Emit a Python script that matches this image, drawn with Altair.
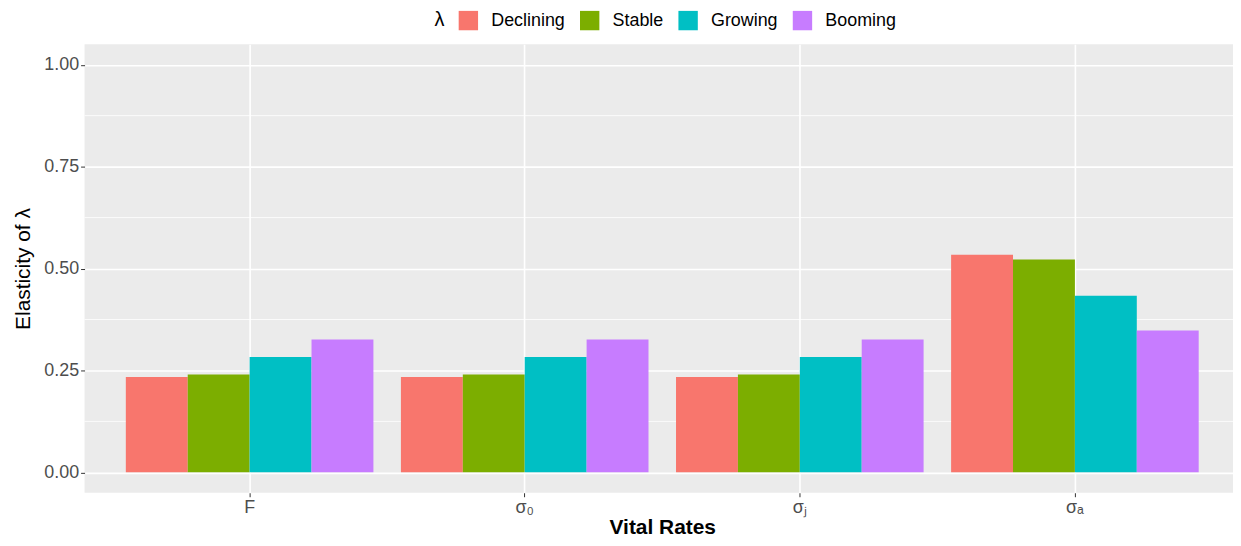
import pandas as pd
import altair as alt

# vital rates on the x axis and the population scenarios (lambda)
rates = ["F", "σ₀", "σⱼ", "σₐ"]
scenarios = ["Declining", "Stable", "Growing", "Booming"]
colors = ["#F8766D", "#7CAE00", "#00BFC4", "#C77CFF"]

# elasticity of lambda, one list per vital rate
elast_F = [0.234, 0.240, 0.283, 0.326]
elast_s0 = [0.234, 0.240, 0.283, 0.326]
elast_sj = [0.234, 0.240, 0.283, 0.326]
elast_sa = [0.534, 0.522, 0.433, 0.348]

major_breaks = [0.0, 0.25, 0.5, 0.75, 1.0]
minor_breaks = [0.125, 0.375, 0.625, 0.875]

rows = []
for rate, vals in zip(rates, [elast_F, elast_s0, elast_sj, elast_sa]):
    for sc, v in zip(scenarios, vals):
        rows.append({"rate": rate, "scenario": sc, "elasticity": v})
df = pd.DataFrame(rows)

FONT = "Liberation Sans"

x_enc = alt.X(
    "rate:N",
    sort=rates,
    scale=alt.Scale(paddingInner=0.1, paddingOuter=0.15, range=[0, 1162]),
    axis=alt.Axis(
        title="Vital Rates", titleFontSize=21, titleFontWeight="bold",
        titleColor="black", titlePadding=0, labelAngle=0, labelFontSize=18,
        labelColor="#4D4D4D", labelPadding=2, tickColor="#333333", tickSize=4,
        domain=False, grid=True, gridColor="white", gridWidth=1.6,
        bandPosition=0.5,
    ),
)

y_scale = alt.Scale(domain=[-0.05, 1.05], nice=False, zero=False)
y_axis = alt.Axis(
    title="Elasticity of λ", values=major_breaks, format=".2f",
    titleFontSize=21, titleFontWeight="normal", titleColor="black",
    titlePadding=10, labelFontSize=18, labelColor="#4D4D4D",
    labelPadding=2, tickColor="#333333", tickSize=4, domain=False,
    grid=True, gridColor="white", gridWidth=1.6,
)

bars = alt.Chart(df).mark_bar().encode(
    x=x_enc,
    xOffset=alt.XOffset("scenario:N", sort=scenarios,
                        scale=alt.Scale(paddingInner=0, paddingOuter=0)),
    y=alt.Y("elasticity:Q", scale=y_scale, axis=y_axis),
    y2=alt.datum(0),
    color=alt.Color(
        "scenario:N", sort=scenarios,
        scale=alt.Scale(domain=scenarios, range=colors),
        legend=alt.Legend(
            title="λ", orient="none", legendX=352, legendY=-34,
            direction="horizontal", titleOrient="left", titleFontSize=20,
            titleFontWeight="normal", titleColor="black", titlePadding=14,
            labelFontSize=18, labelColor="black", labelOffset=13,
            symbolType="square", symbolSize=380, symbolStrokeWidth=0,
            columnPadding=14,
        ),
    ),
)

# thin white minor grid lines drawn from the shared y scale
minor = alt.Chart(pd.DataFrame({"v": minor_breaks})).mark_rule(
    color="white", strokeWidth=0.8
).encode(y=alt.Y("v:Q", scale=y_scale, axis=y_axis))

chart = alt.layer(minor, bars).properties(
    width=1155,
    height=451,
    padding={"left": 77, "top": 35, "right": 0, "bottom": 45},
    autosize=alt.AutoSizeParams(type="none"),
    background="white",
).configure(
    font=FONT
).configure_view(
    fill="#EBEBEB", stroke=None
)

chart.save("out.html", embed_options={"renderer": "svg", "actions": False})
